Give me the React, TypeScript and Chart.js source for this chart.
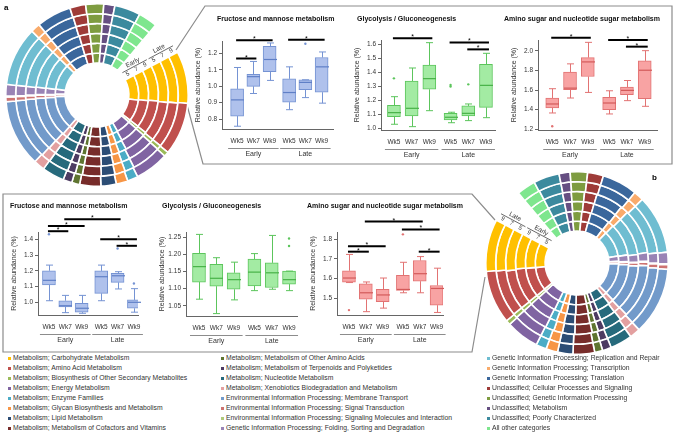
import React, { useEffect, useRef } from "react";
import { Chart, registerables } from "chart.js";

Chart.register(...registerables);

const FONT = "'Liberation Sans', Arial, sans-serif";

// ---------------- shared labels ----------------
const weekLabels = ["Wk5", "Wk7", "Wk9", "Wk5", "Wk7", "Wk9"];
const groupLabels = ["Early", "Late"];
const xPos = [1, 2, 3, 4.2, 5.2, 6.2];
const ringWeeks = ["5", "7", "9", "5", "7", "9"]; // inner -> outer

const categories = [
  "Metabolism; Carbohydrate Metabolism",
  "Metabolism; Amino Acid Metabolism",
  "Metabolism; Biosynthesis of Other Secondary Metabolites",
  "Metabolism; Energy Metabolism",
  "Metabolism; Enzyme Families",
  "Metabolism; Glycan Biosynthesis and Metabolism",
  "Metabolism; Lipid Metabolism",
  "Metabolism; Metabolism of Cofactors and Vitamins",
  "Metabolism; Metabolism of Other Amino Acids",
  "Metabolism; Metabolism of Terpenoids and Polyketides",
  "Metabolism; Nucleotide Metabolism",
  "Metabolism; Xenobiotics Biodegradation and Metabolism",
  "Environmental Information Processing; Membrane Transport",
  "Environmental Information Processing; Signal Transduction",
  "Environmental Information Processing; Signaling Molecules and Interaction",
  "Genetic Information Processing; Folding, Sorting and Degradation",
  "Genetic Information Processing; Replication and Repair",
  "Genetic Information Processing; Transcription",
  "Genetic Information Processing; Translation",
  "Unclassified; Cellular Processes and Signaling",
  "Unclassified; Genetic Information Processing",
  "Unclassified; Metabolism",
  "Unclassified; Poorly Characterized",
  "All other categories",
];

const categoryColors = [
  "#FFC000", "#C0504D", "#9BBB59", "#8064A2", "#4BACC6", "#F79646",
  "#2C4D75", "#772C2A", "#5F7530", "#4D3B62", "#276A7C", "#E3A0A0",
  "#729ACA", "#CD7371", "#AFC97A", "#9983B5", "#6FBDD1", "#F9AB6B",
  "#3A679C", "#9E3B38", "#7E9C40", "#664F82", "#3C8A9E", "#7EE68E",
];

// ---------------- donut a (relative abundance %, one array per ring) ----------------
const ringA_E5 = [10.4, 8.9, 0.9, 6.0, 2.2, 2.0, 3.1, 4.2, 1.5, 1.8, 4.5, 1.6, 13.8, 0.9, 0.15, 2.0, 10.6, 1.8, 6.9, 3.0, 3.1, 2.1, 4.6, 3.9];
const ringA_E7 = [10.2, 9.2, 0.9, 6.1, 2.1, 2.1, 3.0, 4.1, 1.5, 1.8, 4.4, 1.7, 13.6, 0.9, 0.15, 2.1, 10.8, 1.8, 6.8, 3.0, 3.2, 2.1, 4.7, 3.8];
const ringA_E9 = [10.0, 9.5, 0.9, 6.2, 2.1, 2.1, 3.0, 4.1, 1.5, 1.8, 4.4, 1.8, 13.3, 0.9, 0.15, 2.1, 10.9, 1.8, 6.8, 3.0, 3.2, 2.1, 4.7, 3.8];
const ringA_L5 = [10.1, 9.6, 0.9, 6.3, 2.0, 2.1, 2.9, 4.1, 1.5, 1.7, 4.3, 1.9, 13.1, 0.9, 0.15, 2.1, 11.0, 1.8, 6.7, 3.0, 3.3, 2.1, 4.8, 3.7];
const ringA_L7 = [10.0, 9.8, 0.9, 6.3, 2.0, 2.2, 2.9, 4.0, 1.5, 1.7, 4.3, 2.0, 12.9, 0.9, 0.15, 2.2, 11.1, 1.8, 6.7, 3.0, 3.3, 2.1, 4.8, 3.7];
const ringA_L9 = [9.9, 10.0, 0.9, 6.4, 2.0, 2.2, 2.9, 4.0, 1.5, 1.7, 4.2, 2.1, 12.7, 0.9, 0.15, 2.2, 11.2, 1.8, 6.6, 3.0, 3.4, 2.1, 4.9, 3.6];

// ---------------- donut b ----------------
const ringB_E5 = [10.2, 9.6, 0.9, 6.7, 2.1, 2.1, 3.0, 4.3, 1.5, 1.7, 4.4, 1.7, 13.2, 0.9, 0.15, 2.2, 10.8, 1.9, 6.6, 3.0, 3.2, 2.0, 4.6, 3.6];
const ringB_E7 = [10.1, 9.8, 0.9, 6.6, 2.1, 2.1, 3.0, 4.2, 1.5, 1.7, 4.4, 1.7, 13.1, 0.9, 0.15, 2.2, 10.9, 1.9, 6.6, 3.0, 3.2, 2.0, 4.6, 3.7];
const ringB_E9 = [10.0, 9.9, 0.9, 6.5, 2.0, 2.2, 3.0, 4.2, 1.5, 1.7, 4.3, 1.8, 13.0, 0.9, 0.15, 2.2, 11.0, 1.9, 6.7, 3.0, 3.2, 2.1, 4.7, 3.7];
const ringB_L5 = [10.2, 9.7, 0.9, 6.5, 2.1, 2.1, 3.0, 4.2, 1.5, 1.7, 4.3, 1.8, 13.1, 0.9, 0.15, 2.1, 10.9, 1.9, 6.6, 3.0, 3.2, 2.1, 4.7, 3.7];
const ringB_L7 = [10.0, 9.9, 0.9, 6.4, 2.0, 2.2, 2.9, 4.1, 1.5, 1.7, 4.3, 1.9, 12.9, 0.9, 0.15, 2.2, 11.0, 1.9, 6.7, 3.0, 3.3, 2.1, 4.8, 3.7];
const ringB_L9 = [9.9, 10.1, 0.9, 6.3, 2.0, 2.2, 2.9, 4.1, 1.5, 1.7, 4.2, 2.0, 12.8, 0.9, 0.15, 2.2, 11.1, 1.9, 6.7, 3.0, 3.3, 2.1, 4.9, 3.6];

// ---------------- box plots: [min, q1, median, q3, max] per group ----------------
const fructA = [
  [0.756, 0.818, 0.917, 0.984, 1.115],
  [0.956, 1.0, 1.059, 1.073, 1.152],
  [1.036, 1.089, 1.164, 1.244, 1.265],
  [0.857, 0.903, 0.962, 1.046, 1.119],
  [0.931, 0.98, 1.024, 1.04, 1.04],
  [0.897, 0.964, 1.119, 1.176, 1.21],
];
const fructA_out = [[4, 1.26]];
const fructA_sig = [[0, 1, 1.17], [0, 2, 1.281], [3, 5, 1.285]];
const fructA_ticks = [0.8, 0.9, 1.0, 1.1, 1.2];

const glycoA = [
  [1.029, 1.083, 1.112, 1.164, 1.226],
  [1.012, 1.088, 1.143, 1.338, 1.431],
  [1.126, 1.279, 1.355, 1.452, 1.612],
  [1.04, 1.06, 1.079, 1.107, 1.115],
  [1.055, 1.088, 1.107, 1.16, 1.174],
  [1.076, 1.15, 1.307, 1.457, 1.536],
];
const glycoA_out = [[0, 1.357], [3, 1.31], [3, 1.298], [4, 1.314]];
const glycoA_sig = [[0, 2, 1.643], [3, 5, 1.614], [4, 5, 1.564]];
const glycoA_ticks = [1.0, 1.1, 1.2, 1.3, 1.4, 1.5, 1.6];

const aminoA = [
  [1.366, 1.417, 1.458, 1.519, 1.614],
  [1.519, 1.603, 1.62, 1.783, 1.868],
  [1.576, 1.739, 1.888, 1.932, 2.088],
  [1.356, 1.4, 1.468, 1.525, 1.593],
  [1.492, 1.553, 1.597, 1.631, 1.698],
  [1.434, 1.512, 1.803, 1.898, 2.003],
];
const aminoA_out = [[0, 1.23]];
const aminoA_sig = [[0, 2, 2.136], [3, 5, 2.112], [4, 5, 2.044]];
const aminoA_ticks = [1.2, 1.4, 1.6, 1.8, 2.0];

const fructB = [
  [1.01, 1.11, 1.14, 1.201, 1.237],
  [0.934, 0.97, 0.978, 1.01, 1.044],
  [0.93, 0.937, 0.962, 0.993, 1.044],
  [1.01, 1.057, 1.163, 1.2, 1.237],
  [1.085, 1.127, 1.169, 1.184, 1.195],
  [0.937, 0.962, 1.0, 1.015, 1.087],
];
const fructB_out = [[0, 1.434], [4, 1.343], [5, 1.12]];
const fructB_sig = [[0, 1, 1.453], [0, 2, 1.487], [1, 4, 1.529], [3, 5, 1.402], [4, 5, 1.36]];
const fructB_ticks = [1.0, 1.1, 1.2, 1.3, 1.4];

const glycoB = [
  [1.069, 1.119, 1.164, 1.203, 1.258],
  [1.027, 1.107, 1.13, 1.171, 1.19],
  [1.067, 1.098, 1.126, 1.146, 1.177],
  [1.094, 1.108, 1.148, 1.186, 1.202],
  [1.098, 1.103, 1.146, 1.175, 1.255],
  [1.094, 1.113, 1.126, 1.151, 1.151],
];
const glycoB_out = [[5, 1.246], [5, 1.224]];
const glycoB_sig: number[][] = [];
const glycoB_ticks = [1.05, 1.1, 1.15, 1.2, 1.25];

const aminoB = [
  [1.58, 1.582, 1.603, 1.64, 1.723],
  [1.432, 1.495, 1.528, 1.573, 1.583],
  [1.45, 1.483, 1.517, 1.545, 1.603],
  [1.528, 1.54, 1.545, 1.617, 1.683],
  [1.528, 1.587, 1.625, 1.692, 1.712],
  [1.428, 1.465, 1.55, 1.565, 1.653],
];
const aminoB_out = [[0, 1.44], [3, 1.825]];
const aminoB_sig = [[0, 1, 1.737], [0, 2, 1.765], [1, 4, 1.89], [3, 5, 1.85], [4, 5, 1.737]];
const aminoB_ticks = [1.5, 1.6, 1.7, 1.8];

// ---------------- styles / layout ----------------
const BLUE = { fill: "#AFC1EC", stroke: "#7593D3", median: "#5F7FC6" };
const GREEN = { fill: "#A3EBA3", stroke: "#5CC55C", median: "#47B247" };
const RED = { fill: "#F8A3A3", stroke: "#E27373", median: "#D35A5A" };

const TITLE_FRUCT = "Fructose and mannose metabolism";
const TITLE_GLYCO = "Glycolysis / Gluconeogenesis";
const TITLE_AMINO = "Amino sugar and nucleotide sugar metabolism";

const boxPanels = [
  { title: TITLE_FRUCT, tx: 217, ty: 19, stats: fructA, out: fructA_out, sig: fructA_sig, ticks: fructA_ticks, dec: 1, yMin: 0.739, yMax: 1.277, xMin: 0.07, xMax: 6.9, L: 222, R: 333, T: 41, B: 129, col: BLUE },
  { title: TITLE_GLYCO, tx: 357, ty: 19, stats: glycoA, out: glycoA_out, sig: glycoA_sig, ticks: glycoA_ticks, dec: 1, yMin: 0.988, yMax: 1.631, xMin: 0.27, xMax: 6.71, L: 381, R: 495, T: 40, B: 130, col: GREEN },
  { title: TITLE_AMINO, tx: 504, ty: 19, stats: aminoA, out: aminoA_out, sig: aminoA_sig, ticks: aminoA_ticks, dec: 1, yMin: 1.192, yMax: 2.112, xMin: 0.2, xMax: 6.89, L: 538, R: 657, T: 40, B: 130, col: RED },
  { title: TITLE_FRUCT, tx: 10, ty: 206, stats: fructB, out: fructB_out, sig: fructB_sig, ticks: fructB_ticks, dec: 1, yMin: 0.919, yMax: 1.448, xMin: 0.33, xMax: 6.45, L: 38, R: 138, T: 232, B: 315, col: BLUE },
  { title: TITLE_GLYCO, tx: 162, ty: 206, stats: glycoB, out: glycoB_out, sig: glycoB_sig, ticks: glycoB_ticks, dec: 2, yMin: 1.02, yMax: 1.265, xMin: 0.25, xMax: 6.66, L: 186, R: 297, T: 232, B: 316, col: GREEN },
  { title: TITLE_AMINO, tx: 307, ty: 206, stats: aminoB, out: aminoB_out, sig: aminoB_sig, ticks: aminoB_ticks, dec: 1, yMin: 1.415, yMax: 1.837, xMin: 0.29, xMax: 6.58, L: 337, R: 443, T: 232, B: 315, col: RED },
];

const PAD_TOP = 22;
const Y_W = 34;
const X_H = 32;
const PAD_R = 6;

function canvasRect(p: any) {
  return {
    left: p.L - Y_W,
    top: p.T - PAD_TOP,
    width: Y_W + (p.R - p.L) + PAD_R,
    height: PAD_TOP + (p.B - p.T) + X_H,
  };
}

function boxExtras(p: any) {
  return {
    id: "boxExtras",
    afterDatasetsDraw(chart: any) {
      const { ctx, chartArea: ca } = chart;
      const xs = chart.scales.x;
      const ys = chart.scales.y;
      const line = (x1: number, y1: number, x2: number, y2: number) => {
        ctx.beginPath();
        ctx.moveTo(x1, y1);
        ctx.lineTo(x2, y2);
        ctx.stroke();
      };
      ctx.save();
      const hw = 6.5;
      const cap = 3.5;
      p.stats.forEach((s: number[], i: number) => {
        const px = Math.round(xs.getPixelForValue(xPos[i])) + 0.5;
        const [mn, q1, md, q3, mx] = s.map((v) => ys.getPixelForValue(v));
        ctx.strokeStyle = p.col.stroke;
        ctx.lineWidth = 1;
        line(px, q3, px, mx);
        line(px, q1, px, mn);
        line(px - cap, mx, px + cap, mx);
        line(px - cap, mn, px + cap, mn);
        ctx.strokeStyle = p.col.median;
        ctx.lineWidth = 1.2;
        line(px - hw, md, px + hw, md);
      });
      // significance bars
      ctx.strokeStyle = "#000";
      ctx.fillStyle = "#000";
      ctx.lineWidth = 2;
      ctx.font = `7px ${FONT}`;
      ctx.textAlign = "center";
      ctx.textBaseline = "alphabetic";
      p.sig.forEach(([i, j, v]: number[]) => {
        const x1 = xs.getPixelForValue(xPos[i]) - 1;
        const x2 = xs.getPixelForValue(xPos[j]) + 3;
        const y = ys.getPixelForValue(v);
        line(x1, y, x2, y);
        ctx.fillText("*", (x1 + x2) / 2, y + 1);
      });
      // x tick labels
      ctx.fillStyle = "#333";
      ctx.font = `6.5px ${FONT}`;
      ctx.textBaseline = "middle";
      weekLabels.forEach((lab, i) => {
        ctx.fillText(lab, xs.getPixelForValue(xPos[i]), ca.bottom + 12.5);
      });
      // group underline + labels
      ctx.strokeStyle = "#8c8c8c";
      ctx.lineWidth = 1;
      ctx.font = `7px ${FONT}`;
      groupLabels.forEach((g, k) => {
        const a = xs.getPixelForValue(xPos[k * 3]) - 9;
        const b = xs.getPixelForValue(xPos[k * 3 + 2]) + 9;
        const yy = Math.round(ca.bottom + 18.5) + 0.5;
        line(a, yy, b, yy);
        ctx.fillText(g, (a + b) / 2, ca.bottom + 25);
      });
      // y title
      ctx.save();
      ctx.translate(ca.left - 24, (ca.top + ca.bottom) / 2);
      ctx.rotate(-Math.PI / 2);
      ctx.fillStyle = "#333";
      ctx.font = `7px ${FONT}`;
      ctx.textAlign = "center";
      ctx.textBaseline = "middle";
      ctx.fillText("Relative abundance (%)", 0, 0);
      ctx.restore();
      ctx.restore();
    },
  };
}

function boxConfig(p: any): any {
  return {
    type: "bar",
    data: {
      datasets: [
        {
          type: "bar",
          data: p.stats.map((s: number[], i: number) => ({ x: xPos[i], y: [s[1], s[3]] })),
          backgroundColor: p.col.fill,
          borderColor: p.col.stroke,
          borderWidth: 1,
          borderSkipped: false,
          barThickness: 13,
        },
        {
          type: "scatter",
          data: p.out.map(([i, v]: number[]) => ({ x: xPos[i], y: v })),
          pointRadius: 1.2,
          backgroundColor: p.col.stroke,
          borderWidth: 0,
        },
      ],
    },
    options: {
      animation: false,
      responsive: false,
      maintainAspectRatio: false,
      devicePixelRatio: 1,
      events: [],
      layout: { padding: { top: PAD_TOP, right: PAD_R, left: 0, bottom: 0 } },
      plugins: { legend: { display: false }, tooltip: { enabled: false }, title: { display: false } },
      scales: {
        x: {
          type: "linear",
          min: p.xMin,
          max: p.xMax,
          offset: false,
          grid: { display: false },
          ticks: { display: false },
          border: { display: true, color: "#666", width: 1 },
          afterFit: (s: any) => {
            s.height = X_H;
          },
        },
        y: {
          type: "linear",
          min: p.yMin,
          max: p.yMax,
          grid: { display: true, drawOnChartArea: false, drawTicks: true, tickLength: 3, color: "#666" },
          border: { display: true, color: "#666", width: 1 },
          ticks: {
            font: { size: 6.5, family: FONT },
            color: "#333",
            padding: 2,
            autoSkip: false,
            callback: (v: any) => Number(v).toFixed(p.dec),
          },
          afterBuildTicks: (s: any) => {
            s.ticks = p.ticks.map((v: number) => ({ value: v }));
          },
          afterFit: (s: any) => {
            s.width = Y_W;
          },
        },
      },
    },
    plugins: [boxExtras(p)],
  };
}

// ---------------- donuts ----------------
function ringLabels(mirror: boolean) {
  return {
    id: "ringLabels",
    afterDatasetsDraw(chart: any) {
      const ctx = chart.ctx;
      const n = chart.data.datasets.length;
      const ci = mirror ? categories.length - 1 : 0;
      const inner = chart.getDatasetMeta(n - 1).data[ci];
      const cx = inner.x;
      const cy = inner.y;
      const e = mirror ? inner.endAngle : inner.startAngle;
      const dir = [Math.cos(e), Math.sin(e)];
      const nrm = mirror ? [-Math.sin(e), Math.cos(e)] : [Math.sin(e), -Math.cos(e)];
      const rot = mirror ? e - Math.PI : e;
      const pt = (r: number, g: number) => [cx + r * dir[0] + g * nrm[0], cy + r * dir[1] + g * nrm[1]];
      const txt = (s: string, r: number, g: number, size: number) => {
        const [x, y] = pt(r, g);
        ctx.save();
        ctx.translate(x, y);
        ctx.rotate(rot);
        ctx.font = `${size}px ${FONT}`;
        ctx.textAlign = "center";
        ctx.textBaseline = "middle";
        ctx.fillText(s, 0, 0);
        ctx.restore();
      };
      ctx.save();
      ctx.fillStyle = "#333";
      ctx.strokeStyle = "#444";
      ctx.lineWidth = 0.8;
      const arcs: any[] = [];
      for (let k = 0; k < n; k++) arcs.push(chart.getDatasetMeta(n - 1 - k).data[ci]);
      arcs.forEach((a, k) => txt(ringWeeks[k], (a.innerRadius + a.outerRadius) / 2, 4.2, 6));
      groupLabels.forEach((g, gi) => {
        const r0 = arcs[gi * 3].innerRadius + 1;
        const r1 = arcs[gi * 3 + 2].outerRadius - 1;
        const [x0, y0] = pt(r0, 7.8);
        const [x1, y1] = pt(r1, 7.8);
        ctx.beginPath();
        ctx.moveTo(x0, y0);
        ctx.lineTo(x1, y1);
        ctx.stroke();
        txt(g, (r0 + r1) / 2, 11.8, 6.5);
      });
      ctx.restore();
    },
  };
}

function donutConfig(ringsInnerToOuter: number[][], mirror: boolean): any {
  const colors = mirror ? [...categoryColors].reverse() : categoryColors;
  const labels = mirror ? [...categories].reverse() : categories;
  const outerToInner = [...ringsInnerToOuter].reverse();
  return {
    type: "doughnut",
    data: {
      labels,
      datasets: outerToInner.map((r) => ({
        data: mirror ? [...r].reverse() : r,
        backgroundColor: colors,
        borderColor: "#ffffff",
        borderWidth: 1.6,
      })),
    },
    options: {
      animation: false,
      responsive: false,
      maintainAspectRatio: false,
      devicePixelRatio: 1,
      events: [],
      rotation: mirror ? 320 : 62,
      circumference: 338,
      cutout: "35%",
      layout: { padding: 0 },
      plugins: { legend: { display: false }, tooltip: { enabled: false } },
    },
    plugins: [ringLabels(mirror)],
  };
}

const ringsA = [ringA_E5, ringA_E7, ringA_E9, ringA_L5, ringA_L7, ringA_L9];
const ringsB = [ringB_E5, ringB_E7, ringB_E9, ringB_L5, ringB_L7, ringB_L9];

const DONUT_A = { left: 5, top: 3, size: 184 };
const DONUT_B = { left: 485, top: 171, size: 184 };

export default function App() {
  const refs = useRef<(HTMLCanvasElement | null)[]>([]);

  useEffect(() => {
    const charts: Chart[] = [];
    charts.push(new Chart(refs.current[0] as HTMLCanvasElement, donutConfig(ringsA, false)));
    charts.push(new Chart(refs.current[1] as HTMLCanvasElement, donutConfig(ringsB, true)));
    boxPanels.forEach((p, k) => {
      charts.push(new Chart(refs.current[2 + k] as HTMLCanvasElement, boxConfig(p)));
    });
    return () => charts.forEach((c) => c.destroy());
  }, []);

  const abs = (l: number, t: number): React.CSSProperties => ({ position: "absolute", left: l, top: t });

  return (
    <div style={{ position: "fixed", left: 0, top: 0, width: 675, height: 436, background: "#fff", overflow: "hidden", fontFamily: FONT }}>
      <svg width={675} height={436} style={{ position: "absolute", left: 0, top: 0 }}>
        <polyline points="176,50 205,6 672,6 672,164 203,164 187,105" fill="none" stroke="#8c8c8c" strokeWidth={1.2} />
        <polyline points="495,220 472,194 3,194 3,352 472,352 485,277" fill="none" stroke="#8c8c8c" strokeWidth={1.2} />
      </svg>

      <canvas
        ref={(el) => { refs.current[0] = el; }}
        width={DONUT_A.size}
        height={DONUT_A.size}
        style={{ ...abs(DONUT_A.left, DONUT_A.top), width: DONUT_A.size, height: DONUT_A.size }}
      />
      <canvas
        ref={(el) => { refs.current[1] = el; }}
        width={DONUT_B.size}
        height={DONUT_B.size}
        style={{ ...abs(DONUT_B.left, DONUT_B.top), width: DONUT_B.size, height: DONUT_B.size }}
      />

      {boxPanels.map((p, k) => {
        const r = canvasRect(p);
        return (
          <React.Fragment key={k}>
            <canvas
              ref={(el) => { refs.current[2 + k] = el; }}
              width={r.width}
              height={r.height}
              style={{ ...abs(r.left, r.top), width: r.width, height: r.height }}
            />
            <div style={{ ...abs(p.tx, p.ty - 5), fontSize: 7, lineHeight: "10px", fontWeight: "bold", color: "#111", whiteSpace: "nowrap" }}>
              {p.title}
            </div>
          </React.Fragment>
        );
      })}

      <div style={{ ...abs(4, 3), fontSize: 8, fontWeight: "bold", lineHeight: "10px" }}>a</div>
      <div style={{ ...abs(652, 173), fontSize: 8, fontWeight: "bold", lineHeight: "10px" }}>b</div>

      {categories.map((c, i) => {
        const col = Math.floor(i / 8);
        const row = i % 8;
        const x = [8, 221, 487][col];
        const y = 353 + row * 10;
        return (
          <div
            key={c}
            style={{
              ...abs(x, y),
              height: 10,
              lineHeight: "10px",
              fontSize: 8,
              color: "#333",
              whiteSpace: "nowrap",
              display: "flex",
              alignItems: "center",
            }}
          >
            <span style={{ display: "inline-block", width: 3, height: 3, background: categoryColors[i], marginRight: 1.5, flex: "none" }} />
            <span style={{ display: "inline-block", transform: "scaleX(0.85)", transformOrigin: "0 50%" }}>{c}</span>
          </div>
        );
      })}
    </div>
  );
}
